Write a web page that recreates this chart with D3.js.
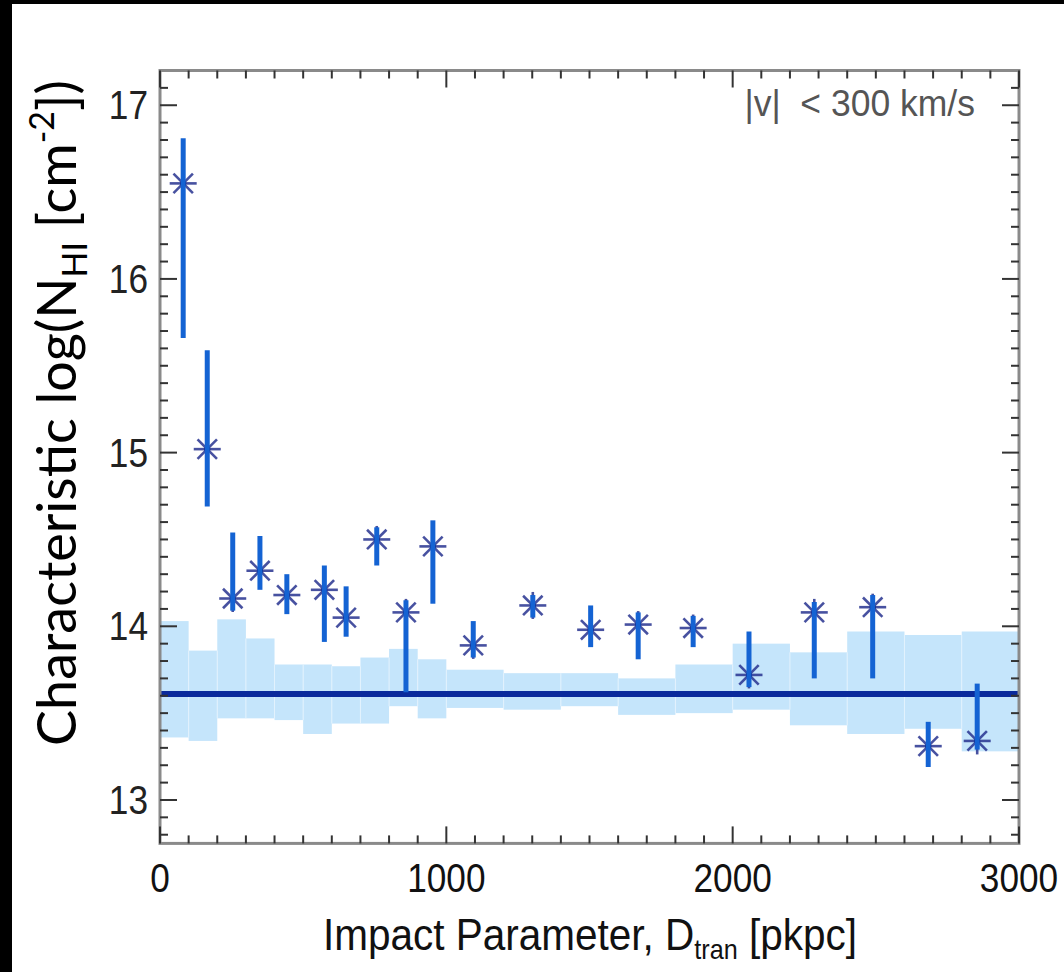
<!DOCTYPE html>
<html>
<head>
<meta charset="utf-8">
<script src="https://cdn.jsdelivr.net/npm/d3@7"></script>
<style>
  html, body { margin: 0; padding: 0; background: #fff; }
  svg { display: block; }
</style>
</head>
<body>
<script>
// Bin edges of the control band (pkpc)
const binEdges = [0,100,200,300,400,500,600,700,800,900,1000,1200,1400,1600,1800,2000,2200,2400,2600,2800,3000];
// Upper / lower limits of the random-sightline band per bin
const bandHi = [14.03,13.86,14.04,13.93,13.78,13.78,13.77,13.82,13.87,13.81,13.75,13.73,13.73,13.70,13.78,13.90,13.85,13.97,13.95,13.97];
const bandLo = [13.36,13.34,13.47,13.47,13.46,13.38,13.44,13.44,13.54,13.47,13.53,13.52,13.54,13.49,13.50,13.52,13.43,13.38,13.41,13.28];
// Median level of the band
const bandMedian = 13.61;

// Measured characteristic column densities
const impactParam = [81,165,254,349,443,574,650,757,859,953,1094,1302,1504,1670,1862,2057,2285,2489,2683,2854];
const logN        = [16.55,15.02,14.16,14.32,14.18,14.21,14.05,14.50,14.08,14.46,13.89,14.12,13.98,14.01,13.99,13.72,14.08,14.11,13.31,13.34];
const errHi       = [16.81,15.59,14.54,14.52,14.30,14.35,14.23,14.57,14.15,14.61,14.03,14.18,14.12,14.08,14.06,13.97,14.14,14.18,13.45,13.67];
const errLo       = [15.66,14.69,14.09,14.21,14.07,13.91,13.94,14.35,13.62,14.13,13.82,14.05,13.88,13.81,13.88,13.65,13.70,13.70,13.19,13.29];

// Axis ticks
const xMajorTicks = [0,1000,2000,3000];
const xTickLabels = ["0","1000","2000","3000"];
const yMajorTicks = [13,14,15,16,17];
const yTickLabels = ["13","14","15","16","17"];

const W = 1064, H = 972;
const svg = d3.select("body").append("svg").attr("width", W).attr("height", H);

// page background with dark edge strips
svg.append("rect").attr("width", W).attr("height", H).attr("fill", "#fff");
svg.append("rect").attr("x", 0).attr("y", 0).attr("width", W).attr("height", 4).attr("fill", "#000");
svg.append("rect").attr("x", 0).attr("y", 0).attr("width", 12).attr("height", H).attr("fill", "#000");

const x = d3.scaleLinear().domain([0, 3000]).range([160, 1019]);
const y = d3.scaleLinear().domain([12.75, 17.2]).range([843.4, 70.5]);
const [x0, x1] = x.range();
const [yb, yt] = y.range();

const plot = svg.append("g");
plot.append("defs").append("clipPath").attr("id", "clip")
  .append("rect").attr("x", x0).attr("y", yt).attr("width", x1 - x0).attr("height", yb - yt);

// shaded band, one rect per bin
const bins = bandHi.map((hi, i) => ({ a: binEdges[i], b: binEdges[i + 1], hi, lo: bandLo[i] }));
plot.append("g").attr("clip-path", "url(#clip)")
  .selectAll("rect").data(bins).join("rect")
  .attr("x", d => x(d.a)).attr("width", d => x(d.b) - x(d.a))
  .attr("y", d => y(d.hi)).attr("height", d => y(d.lo) - y(d.hi))
  .attr("fill", "#c5e5fb");
// faint seams between bins
plot.append("g").selectAll("line").data(bins.slice(1)).join("line")
  .attr("x1", d => x(d.a)).attr("x2", d => x(d.a))
  .attr("y1", (d, i) => y(Math.min(d.hi, bins[i].hi)))
  .attr("y2", (d, i) => y(Math.max(d.lo, bins[i].lo)))
  .attr("stroke", "#e3f2fd").attr("stroke-width", 1);

// median line
plot.append("line")
  .attr("x1", x0).attr("x2", x1).attr("y1", y(bandMedian)).attr("y2", y(bandMedian))
  .attr("stroke", "#0a2a9c").attr("stroke-width", 6);

// data
const pts = impactParam.map((d, i) => ({ d, v: logN[i], hi: errHi[i], lo: errLo[i] }));

// asterisk markers
const r = 13.5, rd = r * 0.72;
const star = plot.append("g").selectAll("g").data(pts).join("g")
  .attr("transform", d => `translate(${x(d.d)},${y(d.v)})`);
[[-r,0,r,0],[0,-r,0,r],[-rd,-rd,rd,rd],[-rd,rd,rd,-rd]].forEach(s => {
  star.append("line").attr("x1", s[0]).attr("y1", s[1]).attr("x2", s[2]).attr("y2", s[3])
    .attr("stroke", "#27338f").attr("stroke-width", 2.6).attr("stroke-opacity", 0.85);
});

// error bars
plot.append("g").selectAll("line").data(pts).join("line")
  .attr("x1", d => x(d.d)).attr("x2", d => x(d.d))
  .attr("y1", d => y(d.hi)).attr("y2", d => y(d.lo))
  .attr("stroke", "#1463d3").attr("stroke-width", 5);

// marker centres
star.append("circle").attr("r", 3).attr("fill", "#0d1f80");

// frame
const axisCol = "#333";
plot.append("rect").attr("x", x0).attr("y", yt).attr("width", x1 - x0).attr("height", yb - yt)
  .attr("fill", "none").attr("stroke", "#8a8a8a").attr("stroke-width", 3);

// ticks on all four sides
const majLen = 17, minLen = 8;
const ticksG = plot.append("g").attr("stroke", axisCol).attr("stroke-width", 2);
const xMinor = d3.range(0, 3001, 100);
xMinor.forEach(v => {
  const L = xMajorTicks.includes(v) ? majLen : minLen;
  ticksG.append("line").attr("x1", x(v)).attr("x2", x(v)).attr("y1", yb).attr("y2", yb - L);
  ticksG.append("line").attr("x1", x(v)).attr("x2", x(v)).attr("y1", yt).attr("y2", yt + L);
});
const yMinor = d3.range(128, 172).map(v => v / 10);
yMinor.forEach(v => {
  const L = Math.abs(v - Math.round(v)) < 1e-6 && yMajorTicks.includes(Math.round(v)) ? majLen : minLen;
  ticksG.append("line").attr("x1", x0).attr("x2", x0 + L).attr("y1", y(v)).attr("y2", y(v));
  ticksG.append("line").attr("x1", x1).attr("x2", x1 - L).attr("y1", y(v)).attr("y2", y(v));
});

// tick labels
const tickFont = "'Liberation Sans', Arial, sans-serif";
const sx = 0.88;
xMajorTicks.forEach((v, i) => {
  svg.append("text")
    .attr("transform", `translate(${x(v)},${892}) scale(${sx},1)`)
    .attr("text-anchor", "middle")
    .attr("font-family", tickFont).attr("font-size", 40).attr("fill", "#111")
    .text(xTickLabels[i]);
});
yMajorTicks.forEach((v, i) => {
  svg.append("text")
    .attr("transform", `translate(148,${y(v) + 14}) scale(${sx},1)`)
    .attr("text-anchor", "end")
    .attr("font-family", tickFont).attr("font-size", 40).attr("fill", "#222")
    .text(yTickLabels[i]);
});

// x-axis title
const xt = svg.append("text")
  .attr("transform", `translate(590,950) scale(0.9,1)`)
  .attr("text-anchor", "middle")
  .attr("font-family", tickFont).attr("font-size", 45).attr("fill", "#111");
xt.append("tspan").text("Impact Parameter, D");
xt.append("tspan").attr("font-size", 28).attr("dy", 9).text("tran");
xt.append("tspan").attr("dy", -9).text(" [pkpc]");

// y-axis title
const yt2 = svg.append("text")
  .attr("transform", `translate(76,413) rotate(-90)`)
  .attr("text-anchor", "middle")
  .attr("font-family", "Lato, 'Open Sans', sans-serif").attr("font-size", 54).attr("fill", "#000");
yt2.append("tspan").text("Characteristic log(N");
yt2.append("tspan").attr("font-size", 34).attr("dy", 11).text("HI");
yt2.append("tspan").attr("dy", -11).text(" [cm");
yt2.append("tspan").attr("font-size", 34).attr("dy", -22).text("-2");
yt2.append("tspan").attr("dy", 22).text("])");

// velocity window note
svg.append("text")
  .attr("x", 975).attr("y", 116)
  .attr("text-anchor", "end")
  .attr("font-family", tickFont).attr("font-size", 37).attr("fill", "#555")
  .attr("transform", "translate(975,0) scale(0.96,1) translate(-975,0)")
  .attr("xml:space", "preserve")
  .text("|v|  < 300 km/s");
</script>
</body>
</html>
